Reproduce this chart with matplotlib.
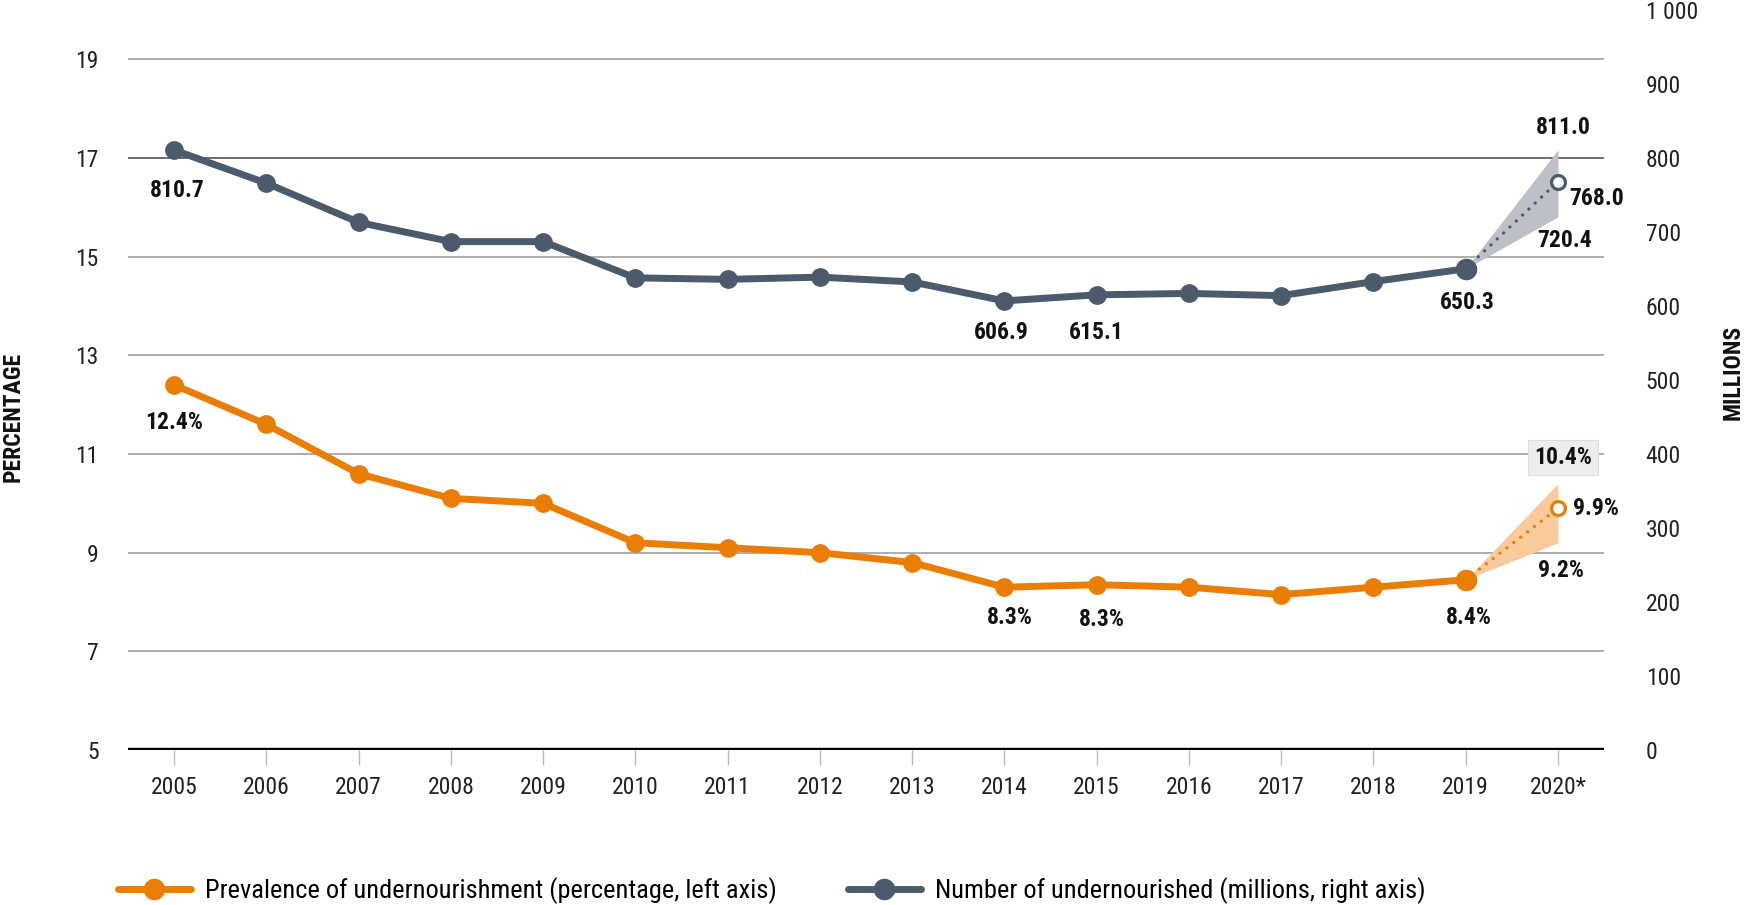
import matplotlib
matplotlib.use("Agg")
import matplotlib.pyplot as plt
from matplotlib import font_manager as fm
from matplotlib.lines import Line2D

# ---------------- data ----------------
years = ["2005", "2006", "2007", "2008", "2009", "2010", "2011", "2012",
         "2013", "2014", "2015", "2016", "2017", "2018", "2019", "2020*"]
pou_pct = [12.4, 11.6, 10.6, 10.1, 10.0, 9.2, 9.1, 9.0, 8.8, 8.3, 8.35,
           8.3, 8.15, 8.3, 8.45]
pou_2020 = 9.9
pou_2020_lo = 9.2
pou_2020_hi = 10.4
nou_mil = [810.7, 766, 713, 687, 687, 638, 636, 639, 632.5, 606.9, 615.1,
           617, 614, 633, 650.3]
nou_2020 = 768.0
nou_2020_lo = 720.4
nou_2020_hi = 811.0
left_ticks = [5, 7, 9, 11, 13, 15, 17, 19]
right_ticks = [0, 100, 200, 300, 400, 500, 600, 700, 800, 900, 1000]

legend_pou = "Prevalence of undernourishment (percentage, left axis)"
legend_nou = "Number of undernourished (millions, right axis)"

# ---------------- font ----------------
names = {f.name for f in fm.fontManager.ttflist}
FAM, STRETCH = "DejaVu Sans", "normal"
if "Roboto Condensed" in names:
    FAM = "Roboto Condensed"
elif "Liberation Sans Narrow" in names:
    FAM = "Liberation Sans Narrow"
elif any(f.name == "DejaVu Sans" and str(f.stretch) in ("condensed", "semi-condensed")
         for f in fm.fontManager.ttflist):
    FAM, STRETCH = "DejaVu Sans", "condensed"
plt.rcParams["font.family"] = [FAM, "DejaVu Sans"]
plt.rcParams["font.stretch"] = STRETCH

ORANGE = "#EA7E05"
SLATE = "#4B5B6B"
FS = 17

fig = plt.figure(figsize=(17.47, 9.05), dpi=100)
ax = fig.add_axes([128 / 1747, 1 - 750 / 905, (1604 - 128) / 1747, 740 / 905])
ax2 = ax.twinx()

x = list(range(len(pou_pct)))
xi = len(pou_pct)  # 2020 position
last = len(pou_pct) - 1

# axes setup
ax.set_xlim(-0.5, len(years) - 0.5)
ax.set_ylim(5, 20)
ax2.set_ylim(0, 1000)
for a in (ax, ax2):
    for s in a.spines.values():
        s.set_visible(False)

ax.set_yticks(left_ticks)
ax.set_yticklabels([str(t) for t in left_ticks])
ax2.set_yticks(right_ticks)
ax2.set_yticklabels(["1 000" if t == 1000 else str(t) for t in right_ticks])
ax.tick_params(axis="y", length=0, pad=21, labelsize=FS, colors="#222222")
ax2.tick_params(axis="y", length=0, pad=30, labelsize=FS, colors="#222222")
ax.set_xticks(range(len(years)))
ax.set_xticklabels(years)
ax.tick_params(axis="x", length=11, width=1, color="#BBBBBB", pad=8,
               labelsize=FS, labelcolor="#222222")

# gridlines
for t in left_ticks[1:]:
    ax.axhline(t, color="#555555" if t == 17 else "#A0A0A0", lw=1.2, zorder=1)
ax.axhline(5, color="black", lw=3.2, zorder=2)

# ---------------- orange series ----------------
ax.fill_between([last, xi], [pou_pct[-1], pou_2020_lo], [pou_pct[-1], pou_2020_hi],
                color="#F8CA9C", lw=0, zorder=2)
ax.plot([last, xi], [pou_pct[-1], pou_2020], color=ORANGE, lw=2.4,
        linestyle=(0, (0.01, 2.6)), dash_capstyle="round", zorder=3)
ax.plot(x, pou_pct, color=ORANGE, lw=5, marker="o", ms=12.5, zorder=4,
        solid_capstyle="round")
ax.plot([last], [pou_pct[-1]], color=ORANGE, marker="o", ms=14.5, zorder=4)
ax.plot([xi], [pou_2020], marker="o", ms=10, mfc="white", mec=ORANGE, mew=2.3,
        zorder=5)

# ---------------- slate series ----------------
ax2.fill_between([last, xi], [nou_mil[-1], nou_2020_lo], [nou_mil[-1], nou_2020_hi],
                 color="#BDC0C7", lw=0, zorder=2)
ax2.plot([last, xi], [nou_mil[-1], nou_2020], color=SLATE, lw=2.4,
         linestyle=(0, (0.01, 2.6)), dash_capstyle="round", zorder=3)
ax2.plot(x, nou_mil, color=SLATE, lw=5, marker="o", ms=12.5, zorder=4,
         solid_capstyle="round")
ax2.plot([last], [nou_mil[-1]], color=SLATE, marker="o", ms=14.5, zorder=4)
ax2.plot([xi], [nou_2020], marker="o", ms=10, mfc="white", mec=SLATE, mew=2.3,
         zorder=5)

# ---------------- labels ----------------
def lab(a, xx, yy, txt, dx, dy, ha="center", box=False):
    kw = dict(textcoords="offset points", xytext=(dx, dy), ha=ha, va="center",
              fontsize=FS, fontweight="bold", color="#111111", zorder=6)
    if box:
        kw["bbox"] = dict(boxstyle="square,pad=0.25", fc="#EDEDED", ec="#DDDDDD", lw=0.8)
    a.annotate(txt, (xx, yy), **kw)

# slate labels
lab(ax2, 0, nou_mil[0], "810.7", 2, -29)
lab(ax2, 9, nou_mil[9], "606.9", -2, -23)
lab(ax2, 10, nou_mil[10], "615.1", 0, -27)
lab(ax2, last, nou_mil[-1], "650.3", 1, -24)
lab(ax2, xi, nou_2020_hi, "811.0", 4, 16)
lab(ax2, xi, nou_2020, "768.0", 8, -12, ha="left")
lab(ax2, xi, nou_2020_lo, "720.4", 5, -17)
# orange labels
lab(ax, 0, pou_pct[0], "12.4%", 0, -27)
lab(ax, 9, pou_pct[9], "8.3%", 4, -22)
lab(ax, 10, pou_pct[10], "8.3%", 4, -25)
lab(ax, last, pou_pct[-1], "8.4%", 2, -27)
lab(ax, xi, pou_2020_hi, "10.4%", 3.5, 19, box=True)
lab(ax, xi, pou_2020, "9.9%", 11, 0, ha="left")
lab(ax, xi, pou_2020_lo, "9.2%", 2, -20)

# axis titles
fig.text(13 / 1747, 1 - 417 / 905, "PERCENTAGE", rotation=90, ha="center",
         va="center", fontsize=FS, fontweight="bold", color="#111111")
fig.text(1733 / 1747, 1 - 372 / 905, "MILLIONS", rotation=90, ha="center",
         va="center", fontsize=FS, fontweight="bold", color="#111111")

# legend
h1 = Line2D([], [], color=ORANGE, lw=5, marker="o", ms=14.5, solid_capstyle="round")
h2 = Line2D([], [], color=SLATE, lw=5, marker="o", ms=14.5, solid_capstyle="round")
fig.legend([h1, h2], [legend_pou, legend_nou], ncol=2, frameon=False,
           loc="center left", bbox_to_anchor=(118 / 1747, 1 - 891 / 905),
           fontsize=19, handlelength=2.75, handletextpad=0.55, columnspacing=2.7,
           borderaxespad=0, borderpad=0)

fig.savefig("out.png", dpi=100)
